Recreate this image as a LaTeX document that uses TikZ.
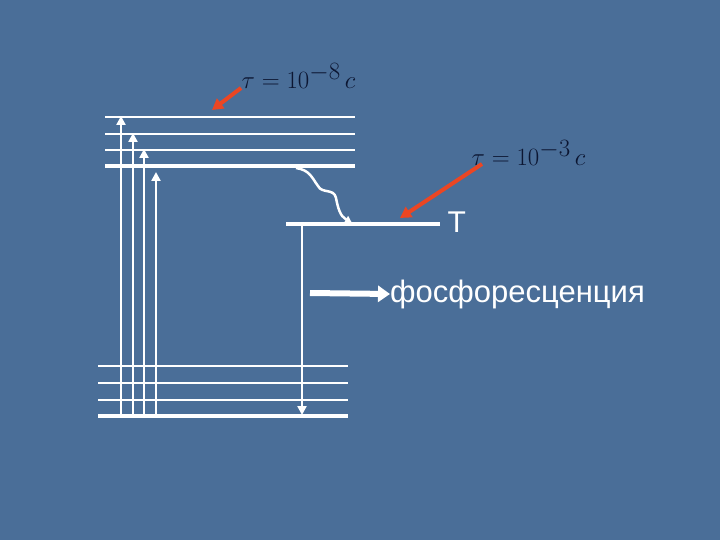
\documentclass[tikz,border=0pt]{standalone}
\usepackage{fontspec}
\setmainfont{Liberation Sans}
\usetikzlibrary{arrows.meta,decorations.pathmorphing}
\definecolor{bg}{RGB}{74,110,152}
\definecolor{ink}{RGB}{12,22,50}
\definecolor{redarr}{RGB}{235,70,35}
\begin{document}
\begin{tikzpicture}[x=1pt,y=-1pt,
  lvl/.style={white,line width=2.5pt},
  lvlthick/.style={white,line width=4.5pt},
  up/.style={white,line width=2.5pt,-{Triangle[width=9pt,length=9pt]}},
  red/.style={redarr,line width=4pt,-{Triangle[width=12pt,length=11pt]}},
  formula/.style={ink,font=\fontsize{34}{38}\selectfont,anchor=west}]
\fill[bg] (0,0) rectangle (720,540);
\useasboundingbox (0,0) rectangle (720,540);
% upper levels
\foreach \y [count=\i] in {117,134,150} \draw[lvl] (105,\y) coordinate (ua\i) -- (355,\y) coordinate (ub\i);
\draw[lvlthick] (105,166) coordinate (u0a) -- (355,166) coordinate (u0b);
% lower levels
\foreach \y [count=\i] in {366,383,400} \draw[lvl] (98,\y) coordinate (la\i) -- (348,\y) coordinate (lb\i);
\draw[lvlthick] (98,416) coordinate (l0a) -- (348,416) coordinate (l0b);
% absorption arrows
\foreach \x/\t [count=\i] in {121/116,133/133,144/149,156/172}{
  \coordinate (s\i) at (\x,416); \coordinate (e\i) at (\x,\t);
  \draw[up] (s\i) -- (e\i);}
% T level
\draw[lvlthick] (286,224) coordinate (ta) -- (440,224) coordinate (tb);
\node[white,font=\fontsize{30}{32}\selectfont,anchor=west] (T) at (444,222) {T};
% wavy transition
\coordinate (w0) at (296,168); \coordinate (w1) at (352,223);
\draw[white,line width=2.5pt,-{Triangle[width=8pt,length=7pt]}] (w0) .. controls (310,170) and (312,178) .. (318,186)
  .. controls (322,194) and (334,188) .. (336,198) .. controls (338,208) and (340,216) .. (w1);
% phosphorescence emission down
\coordinate (pd0) at (302,226); \coordinate (pd1) at (302,415);
\draw[up] (pd0) -- (pd1);
% phosphorescence arrow
\coordinate (pa0) at (310,293);
\node[white,font=\fontsize{31}{34}\selectfont,anchor=west,inner sep=0pt] (ph) at (390,294) {фосфоресценция};
\draw[white,line width=6pt,-{Triangle[width=16pt,length=12pt]}] (pa0) -- (ph.west);
% formulas
\node[formula] (f1) at (238,76) {$\tau = 10^{-8}\,c$};
\node[formula] (f2) at (468,153) {$\tau = 10^{-3}\,c$};
\coordinate (r1a) at (241,88); \coordinate (r1b) at (212,110);
\coordinate (r2a) at (482,164); \coordinate (r2b) at (400,218);
\draw[red] (r1a) -- (r1b);
\draw[red] (r2a) -- (r2b);
\end{tikzpicture}
\end{document}
